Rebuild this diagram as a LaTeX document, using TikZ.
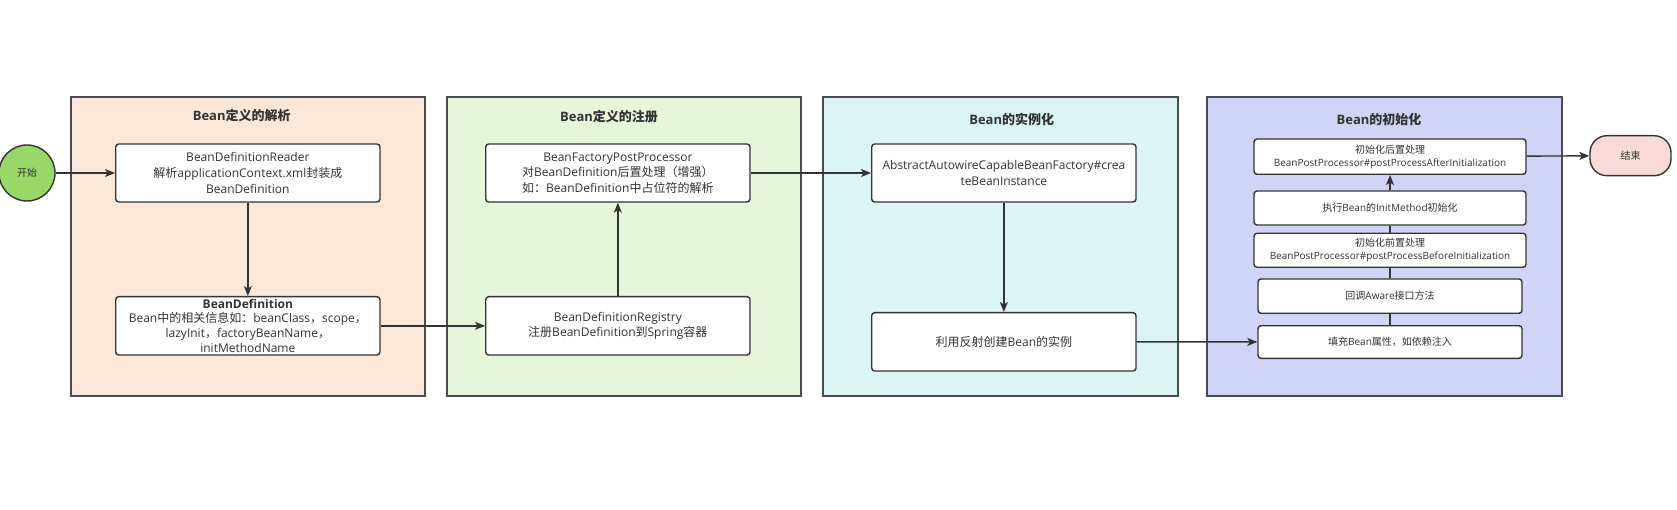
\documentclass[tikz,border=0pt]{standalone}
\usepackage{fontspec}
\setmainfont{Open Sans}
\newfontfamily\zh{Noto Sans CJK SC}
\usetikzlibrary{arrows.meta}
\definecolor{cpeach}{HTML}{FCE8D9}
\definecolor{cgreen}{HTML}{E5F6DA}
\definecolor{ccyan}{HTML}{DBF4F4}
\definecolor{clav}{HTML}{D0D4F6}
\definecolor{cstart}{HTML}{97D869}
\definecolor{cend}{HTML}{F9DAD8}
\definecolor{cline}{HTML}{333333}
\definecolor{cframe}{HTML}{474D52}
\definecolor{ctext}{HTML}{333333}
\begin{document}
\begin{tikzpicture}[x=1pt,y=-1pt,
  container/.style={draw=cframe,line width=1.8pt,inner sep=0pt},
  stepbox/.style={draw=cline,fill=white,line width=1.4pt,rounded corners=3pt,inner sep=1pt,align=center,text=ctext,font=\fontsize{12}{15.8}\selectfont},
  smallbox/.style={stepbox,font=\fontsize{10}{13}\selectfont},
  ttl/.style={text=ctext,font=\bfseries\fontsize{13}{15}\selectfont},
  conn/.style={draw=cline,line width=1.4pt},
  arr/.style={conn,-{Stealth[length=10pt,width=8pt,inset=2.5pt]}}
]
\useasboundingbox (0,0) rectangle (1677,510);
\fill[white] (0,0) rectangle (1677,510);
% containers
\node[container,fill=cpeach,minimum width=354.3pt,minimum height=299.3pt] (c1) at (247.85,246.35) {};
\node[container,fill=cgreen,minimum width=354.3pt,minimum height=299.3pt] (c2) at (623.85,246.35) {};
\node[container,fill=ccyan,minimum width=354.7pt,minimum height=299.3pt] (c3) at (1000.65,246.35) {};
\node[container,fill=clav,minimum width=355.3pt,minimum height=299.3pt] (c4) at (1384.35,246.35) {};
\node[ttl] (t1) at (241.7,115.5) {Bean{\zh 定义的解析}};
\node[ttl] (t2) at (609,116.5) {Bean{\zh 定义的注册}};
\node[ttl] (t3) at (1011.7,119.5) {Bean{\zh 的实例化}};
\node[ttl] (t4) at (1379,119.5) {Bean{\zh 的初始化}};
% start / end
\node[circle,draw=cline,line width=1.4pt,fill=cstart,minimum size=56pt,inner sep=0pt,text=ctext,font=\zh\fontsize{10}{12}\selectfont] (start) at (27,173) {开始};
\node[draw=cline,line width=1.4pt,fill=cend,rounded corners=17pt,minimum width=81pt,minimum height=40pt,inner sep=0pt,text=ctext,font=\zh\fontsize{10}{12}\selectfont] (end) at (1630.5,155.7) {结束};
% boxes
\node[stepbox,minimum width=264.3pt,minimum height=58pt] (b1) at (247.85,173) {BeanDefinitionReader\\{\zh 解析}applicationContext.xml{\zh 封装成}\\BeanDefinition};
\node[stepbox,minimum width=264.3pt,minimum height=58.3pt,font=\fontsize{12}{14.8}\selectfont] (b2) at (247.85,325.85) {\textbf{BeanDefinition}\\Bean{\zh 中的相关信息如：}beanClass{\zh ，}scope{\zh ，}\\lazyInit{\zh ，}factoryBeanName{\zh ，}\\initMethodName};
\node[stepbox,minimum width=264.3pt,minimum height=58pt,font=\fontsize{12}{15.5}\selectfont] (b3) at (617.85,173) {BeanFactoryPostProcessor\\{\zh 对}BeanDefinition{\zh 后置处理（增强）}\\{\zh 如：}BeanDefinition{\zh 中占位符的解析}};
\node[stepbox,minimum width=264.3pt,minimum height=58.3pt,font=\fontsize{12}{15}\selectfont] (b4) at (617.85,325.85) {BeanDefinitionRegistry\\{\zh 注册}BeanDefinition{\zh 到}Spring{\zh 容器}};
\node[stepbox,minimum width=264.3pt,minimum height=58pt,font=\fontsize{12}{15.7}\selectfont] (b5) at (1003.85,173) {AbstractAutowireCapableBeanFactory\#crea\\teBeanInstance};
\node[stepbox,minimum width=264.3pt,minimum height=58.3pt] (b6) at (1003.85,341.85) {{\zh 利用反射创建}Bean{\zh 的实例}};
\node[smallbox,minimum width=272pt,minimum height=35.3pt] (b7) at (1390,156.65) {{\zh 初始化后置处理}\\BeanPostProcessor\#postProcessAfterInitialization};
\node[smallbox,minimum width=272pt,minimum height=34pt] (b8) at (1390,208) {{\zh 执行}Bean{\zh 的}InitMethod{\zh 初始化}};
\node[smallbox,minimum width=272pt,minimum height=34pt] (b9) at (1390,250.3) {{\zh 初始化前置处理}\\BeanPostProcessor\#postProcessBeforeInitialization};
\node[smallbox,minimum width=264pt,minimum height=34.3pt] (b10) at (1390,296.15) {{\zh 回调}Aware{\zh 接口方法}};
\node[smallbox,minimum width=264pt,minimum height=32.6pt] (b11) at (1390,342) {{\zh 填充}Bean{\zh 属性，如依赖注入}};
% connectors
\draw[arr] (start) -- (b1);
\draw[arr] (b1) -- (b2);
\draw[arr] (b2) -- (b4);
\draw[arr] (b4) -- (b3);
\draw[arr] (b3) -- (b5);
\draw[arr] (b5) -- (b6);
\draw[arr] (b6) -- (b11);
\draw[conn] (b11) -- (b10);
\draw[conn] (b10) -- (b9);
\draw[conn] (b9) -- (b8);
\draw[arr] (b8) -- (b7);
\draw[arr] (b7) -- (end);
\end{tikzpicture}
\end{document}
